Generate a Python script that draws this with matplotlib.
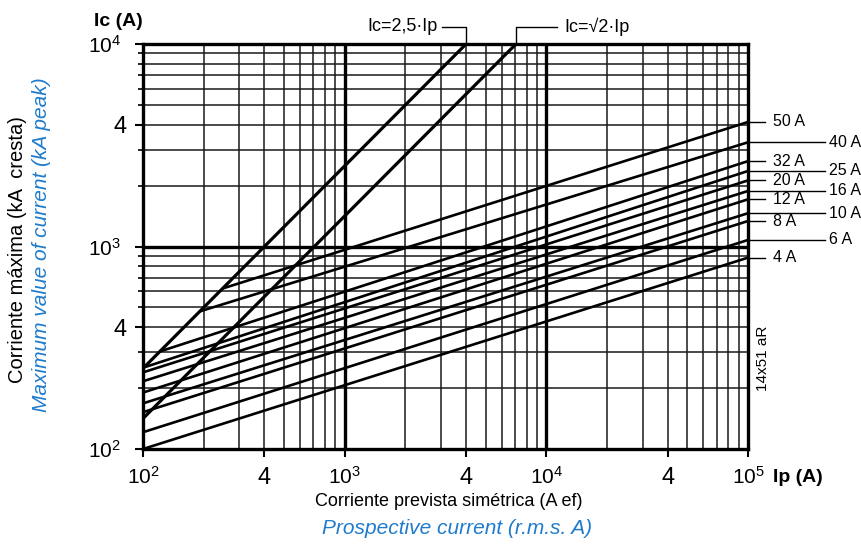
import matplotlib
matplotlib.use('Agg')
import matplotlib.pyplot as plt
import matplotlib.transforms as mtransforms
import numpy as np

plt.rcParams['font.family'] = ['Liberation Sans', 'DejaVu Sans']
plt.rcParams['mathtext.fontset'] = 'custom'
plt.rcParams['mathtext.rm'] = 'Liberation Sans'
plt.rcParams['mathtext.it'] = 'Liberation Sans:italic'
plt.rcParams['mathtext.bf'] = 'Liberation Sans:bold'

# ---- data ----
ratings = ['4 A', '6 A', '8 A', '10 A', '12 A', '16 A', '20 A', '25 A', '32 A', '40 A', '50 A']
ip_start = [100, 100, 100, 100, 100, 100, 100, 100, 121, 191, 248]
ic_start = [100, 121, 152, 168, 190, 216, 239, 252, 303, 478, 620]
ip_end = [1e5] * 11
ic_end = [881, 1077, 1336, 1460, 1710, 1880, 2120, 2360, 2640, 3270, 4120]
label_long = [False, True, False, True, False, True, False, True, False, True, False]

lim25_ip = [100, 4000]
lim25_ic = [250, 10000]
limsq_ip = [100, 7071]
limsq_ic = [141.4, 10000]

x_tick_vals = [100, 400, 1000, 4000, 10000, 40000, 100000]
x_tick_labels = ['$10^2$', '4', '$10^3$', '4', '$10^4$', '4', '$10^5$']
y_tick_vals = [100, 400, 1000, 4000, 10000]
y_tick_labels = ['$10^2$', '4', '$10^3$', '4', '$10^4$']

BLUE = '#1f7bcc'

fig = plt.figure(figsize=(8.62, 5.45), dpi=100)
ax = fig.add_axes([143 / 862, 96 / 545, 605 / 862, 405 / 545])
ax.set_xscale('log')
ax.set_yscale('log')
ax.set_xlim(100, 1e5)
ax.set_ylim(100, 1e4)

# grid
for dec in [100, 1000, 10000]:
    for m in range(2, 10):
        v = dec * m
        if v < 1e5:
            ax.axvline(v, color='#1a1a1a', lw=1.1, zorder=1)
        if dec < 10000 and v < 1e4:
            ax.axhline(v, color='#1a1a1a', lw=1.1, zorder=1)
ax.axvline(1000, color='black', lw=2.4, zorder=1)
ax.axvline(10000, color='black', lw=2.4, zorder=1)
ax.axhline(1000, color='black', lw=2.4, zorder=1)

for s in ax.spines.values():
    s.set_linewidth(2.4)
    s.set_zorder(5)

# fuse lines
for i in range(len(ratings)):
    ax.plot([ip_start[i], ip_end[i]], [ic_start[i], ic_end[i]], color='black', lw=1.9,
            solid_capstyle='butt', zorder=3)

ax.plot(lim25_ip, lim25_ic, color='black', lw=2.3, zorder=3, solid_capstyle='butt')
ax.plot(limsq_ip, limsq_ic, color='black', lw=2.3, zorder=3, solid_capstyle='butt')

# ticks
ax.set_xticks(x_tick_vals)
ax.set_xticklabels(x_tick_labels, fontsize=15)
ax.set_xticks([], minor=True)
ax.set_yticks(y_tick_vals)
ax.set_yticklabels(y_tick_labels, fontsize=15)
ymin = [v for dec in [100, 1000] for v in [dec * m for m in range(2, 10)] if v not in y_tick_vals]
ax.set_yticks(ymin, minor=True)
ax.yaxis.set_minor_formatter(matplotlib.ticker.NullFormatter())
ax.tick_params(axis='both', which='major', direction='out', length=6, width=1.5, pad=6)
ax.tick_params(axis='y', which='minor', direction='out', length=3.5, width=1.2)
ax.tick_params(axis='y', which='major', pad=10)

for lbl in ax.get_yticklabels():
    if lbl.get_text() == '4':
        lbl.set_fontsize(17)
        lbl.set_transform(lbl.get_transform() + mtransforms.ScaledTranslation(6 / 100, 0, fig.dpi_scale_trans))
for lbl in ax.get_xticklabels():
    if lbl.get_text() == '4':
        lbl.set_fontsize(17)
        lbl.set_transform(lbl.get_transform() + mtransforms.ScaledTranslation(0, -1 / 100, fig.dpi_scale_trans))

# right labels
trans = mtransforms.blended_transform_factory(ax.transAxes, ax.transData)
for i, lab in enumerate(ratings):
    y = ic_end[i]
    if label_long[i]:
        ax.plot([1.0, 1.127], [y, y], color='black', lw=1.0, transform=trans, clip_on=False)
        ax.text(1.134, y, lab, fontsize=11.5, ha='left', va='center', transform=trans)
    else:
        ax.plot([1.0, 1.028], [y, y], color='black', lw=1.0, transform=trans, clip_on=False)
        ax.text(1.041, y, lab, fontsize=11.5, ha='left', va='center', transform=trans)

# top annotations
tx = mtransforms.blended_transform_factory(ax.transData, ax.transAxes)
ytop = 1.042
ax.plot([3030, 4000, 4000], [ytop, ytop, 1.0], color='black', lw=1.0, transform=tx, clip_on=False)
ax.text(2900, ytop, 'Ic=2,5·Ip', fontsize=13, ha='right', va='center', transform=tx)
ax.plot([7071, 7071, 11300], [1.0, ytop, ytop], color='black', lw=1.0, transform=tx, clip_on=False)
ax.text(12300, ytop, 'Ic=√2·Ip', fontsize=13, ha='left', va='center', transform=tx)

# side text
ax.text(1.025, 0.225, '14x51 aR', rotation=90, fontsize=11, ha='center', va='center',
        transform=ax.transAxes)

# axis titles
fig.text(118 / 862, 1 - 21 / 545, 'Ic (A)', fontsize=14, fontweight='bold', ha='center', va='center')
fig.text(798 / 862, 1 - 478 / 545, 'Ip (A)', fontsize=14, fontweight='bold', ha='center', va='center')

fig.text(18 / 862, 1 - 250 / 545, 'Corriente máxima (kA  cresta)', rotation=90, fontsize=14.5,
         ha='center', va='center')
fig.text(42 / 862, 1 - 245 / 545, 'Maximum value of current (kA peak)', rotation=90, fontsize=15,
         ha='center', va='center', style='italic', color=BLUE)
fig.text(449 / 862, 1 - 501 / 545, 'Corriente prevista simétrica (A ef)', fontsize=13,
         ha='center', va='center')
fig.text(457 / 862, 1 - 528 / 545, 'Prospective current (r.m.s. A)', fontsize=15,
         ha='center', va='center', style='italic', color=BLUE)

fig.savefig('out.png', dpi=100)
